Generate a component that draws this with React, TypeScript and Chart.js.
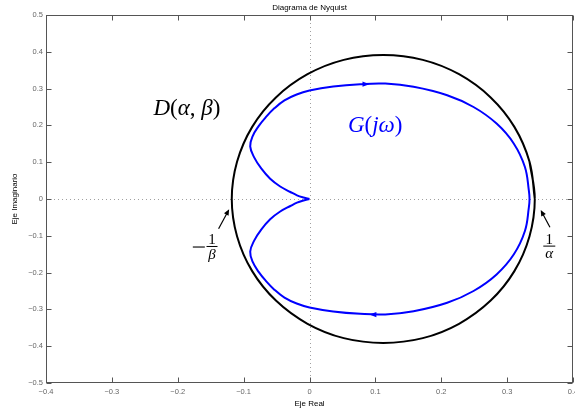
import React, { useEffect, useRef } from "react";
import { Chart, registerables } from "chart.js";

Chart.register(...registerables);

// ---- Data ----
const xTicks = [-0.4, -0.3, -0.2, -0.1, 0, 0.1, 0.2, 0.3, 0.4];
const xTickLabels = ["\u22120.4", "\u22120.3", "\u22120.2", "\u22120.1", "0", "0.1", "0.2", "0.3", "0.4"];
const yTicks = [-0.5, -0.4, -0.3, -0.2, -0.1, 0, 0.1, 0.2, 0.3, 0.4, 0.5];
const yTickLabels = ["\u22120.5", "\u22120.4", "\u22120.3", "\u22120.2", "\u22120.1", "0", "0.1", "0.2", "0.3", "0.4", "0.5"];

// G(jw) upper branch (from origin, up-left, over the top, to the real axis)
const upperX = [0, -0.009, -0.019, -0.029, -0.0445, -0.0597, -0.0733, -0.084, -0.090, -0.0862, -0.0772, -0.0665, -0.053, -0.038, -0.0195, 0, 0.036, 0.077, 0.115, 0.158, 0.209, 0.249, 0.284, 0.310, 0.327, 0.333, 0.334];
const upperY = [0, 0.004, 0.010, 0.019, 0.034, 0.055, 0.083, 0.113, 0.143, 0.171, 0.198, 0.222, 0.247, 0.268, 0.284, 0.2946, 0.3055, 0.312, 0.3136, 0.305, 0.282, 0.250, 0.205, 0.151, 0.087, 0.023, 0];
// G(jw) lower branch (from the real axis, under the bottom, back to origin)
const lowerX = [0.333, 0.327, 0.310, 0.284, 0.249, 0.209, 0.158, 0.115, 0.077, 0.036, 0, -0.0195, -0.038, -0.053, -0.0665, -0.0772, -0.0862, -0.090, -0.084, -0.0733, -0.0597, -0.0445, -0.029, -0.019, -0.009, 0];
const lowerY = [-0.023, -0.087, -0.151, -0.205, -0.250, -0.282, -0.305, -0.3136, -0.312, -0.3055, -0.2946, -0.284, -0.268, -0.247, -0.222, -0.198, -0.171, -0.143, -0.113, -0.083, -0.055, -0.034, -0.019, -0.010, -0.004, 0];

// D(alpha, beta) circle, points read around the curve
const circleX = [0.342, 0.334, 0.311, 0.275, 0.227, 0.172, 0.112, 0.052, -0.003, -0.051, -0.087, -0.110, -0.118, -0.110, -0.087, -0.051, -0.003, 0.052, 0.112, 0.172, 0.227, 0.275, 0.311, 0.334, 0.342, 0.334];
const circleY = [0, 0.101, 0.196, 0.276, 0.339, 0.378, 0.391, 0.378, 0.339, 0.276, 0.196, 0.101, 0, -0.101, -0.196, -0.276, -0.339, -0.378, -0.391, -0.378, -0.339, -0.276, -0.196, -0.101, 0, 0.101];

// direction markers on G(jw)
const curveArrowX = [0.085, 0.097];
const curveArrowY = [0.312, -0.314];
const curveArrowDir = [1, -1];

const toPts = (xs: number[], ys: number[]) => xs.map((x, i) => ({ x, y: ys[i] }));

type Run = { t: string; it: boolean };
const SERIF = '"Liberation Serif", "DejaVu Serif", serif';
const SANS = '"Liberation Sans", Arial, sans-serif';

function drawRuns(ctx: CanvasRenderingContext2D, runs: Run[], cx: number, cy: number, size: number, color: string) {
  const fontOf = (it: boolean) => `${it ? "italic " : ""}${size}px ${SERIF}`;
  let total = 0;
  const widths = runs.map((r) => {
    ctx.font = fontOf(r.it);
    const w = ctx.measureText(r.t).width;
    total += w;
    return w;
  });
  let x = cx - total / 2;
  ctx.fillStyle = color;
  ctx.textBaseline = "middle";
  ctx.textAlign = "left";
  runs.forEach((r, i) => {
    ctx.font = fontOf(r.it);
    ctx.fillText(r.t, x, cy);
    x += widths[i];
  });
}

function drawArrow(ctx: CanvasRenderingContext2D, x1: number, y1: number, x2: number, y2: number) {
  const ang = Math.atan2(y2 - y1, x2 - x1);
  const hl = 6, hw = 2.6;
  ctx.strokeStyle = "#000";
  ctx.fillStyle = "#000";
  ctx.lineWidth = 1.2;
  ctx.beginPath();
  ctx.moveTo(x1, y1);
  ctx.lineTo(x2 - hl * 0.8 * Math.cos(ang), y2 - hl * 0.8 * Math.sin(ang));
  ctx.stroke();
  ctx.beginPath();
  ctx.moveTo(x2, y2);
  ctx.lineTo(x2 - hl * Math.cos(ang) - hw * Math.sin(ang), y2 - hl * Math.sin(ang) + hw * Math.cos(ang));
  ctx.lineTo(x2 - hl * Math.cos(ang) + hw * Math.sin(ang), y2 - hl * Math.sin(ang) - hw * Math.cos(ang));
  ctx.closePath();
  ctx.fill();
}

const decor = {
  id: "nyquistDecor",
  beforeDatasetsDraw(chart: any) {
    const { ctx, chartArea, scales } = chart;
    const { left, right, top, bottom } = chartArea;
    const xs = scales.x, ys = scales.y;
    ctx.save();
    ctx.strokeStyle = "#a0a0a0";
    ctx.lineWidth = 1;
    ctx.setLineDash([1, 3]);
    const px0 = Math.round(xs.getPixelForValue(0)) + 0.5;
    const py0 = Math.round(ys.getPixelForValue(0)) + 0.5;
    ctx.beginPath();
    ctx.moveTo(px0, top);
    ctx.lineTo(px0, bottom);
    ctx.moveTo(left, py0);
    ctx.lineTo(right, py0);
    ctx.stroke();
    ctx.restore();
  },
  afterDatasetsDraw(chart: any) {
    const { ctx, chartArea, scales } = chart;
    const { left, right, top, bottom } = chartArea;
    const xs = scales.x, ys = scales.y;
    const X = (v: number) => xs.getPixelForValue(v);
    const Y = (v: number) => ys.getPixelForValue(v);
    ctx.save();

    // curve direction markers
    ctx.fillStyle = "#0000ff";
    curveArrowX.forEach((vx, i) => {
      const px = X(vx), py = Y(curveArrowY[i]), d = curveArrowDir[i];
      ctx.beginPath();
      ctx.moveTo(px + 4 * d, py);
      ctx.lineTo(px - 3 * d, py - 2.6);
      ctx.lineTo(px - 3 * d, py + 2.6);
      ctx.closePath();
      ctx.fill();
    });

    // box
    const L = Math.round(left) + 0.5, R = Math.round(right) - 0.5;
    const T = Math.round(top) + 0.5, B = Math.round(bottom) - 0.5;
    ctx.strokeStyle = "#555";
    ctx.lineWidth = 1;
    ctx.strokeRect(L, T, R - L, B - T);

    // ticks (inward) + labels
    ctx.beginPath();
    xTicks.forEach((v) => {
      const px = Math.round(X(v)) + 0.5;
      ctx.moveTo(px, B);
      ctx.lineTo(px, B - 5);
      ctx.moveTo(px, T);
      ctx.lineTo(px, T + 5);
    });
    yTicks.forEach((v) => {
      const py = Math.round(Y(v)) + 0.5;
      ctx.moveTo(L, py);
      ctx.lineTo(L + 5, py);
      ctx.moveTo(R, py);
      ctx.lineTo(R - 5, py);
    });
    ctx.stroke();

    ctx.fillStyle = "#666";
    ctx.font = `7.5px ${SANS}`;
    ctx.textBaseline = "middle";
    ctx.textAlign = "center";
    xTicks.forEach((v, i) => ctx.fillText(xTickLabels[i], X(v), bottom + 9));
    ctx.textAlign = "right";
    yTicks.forEach((v, i) => ctx.fillText(yTickLabels[i], left - 3, Y(v)));

    // titles
    ctx.fillStyle = "#000";
    ctx.font = `8px ${SANS}`;
    ctx.textAlign = "center";
    ctx.fillText("Diagrama de Nyquist", (left + right) / 2, 8);
    ctx.fillText("Eje Real", (left + right) / 2, 404);
    ctx.save();
    ctx.translate(15, (top + bottom) / 2);
    ctx.rotate(-Math.PI / 2);
    ctx.fillText("Eje Imaginario", 0, 0);
    ctx.restore();

    // math annotations
    drawRuns(ctx, [
      { t: "D", it: true }, { t: "(", it: false }, { t: "\u03b1", it: true },
      { t: ", ", it: false }, { t: "\u03b2", it: true }, { t: ")", it: false },
    ], X(-0.186), Y(0.244), 23, "#000");
    drawRuns(ctx, [
      { t: "G", it: true }, { t: "(", it: false }, { t: "j\u03c9", it: true }, { t: ")", it: false },
    ], X(0.0997), Y(0.198), 23, "#0000ff");

    // -1/beta
    ctx.fillStyle = "#000";
    ctx.textAlign = "center";
    ctx.textBaseline = "middle";
    const lfx = X(-0.148), lfy = Y(-0.129);
    const mx = X(-0.168);
    ctx.fillRect(mx - 6, lfy, 12, 1.1);
    ctx.font = `15px ${SERIF}`;
    ctx.fillText("1", lfx, lfy - 6.5);
    ctx.font = `italic 15px ${SERIF}`;
    ctx.fillText("\u03b2", lfx, lfy + 9);
    ctx.fillRect(lfx - 5.5, lfy - 0.5, 11, 1);
    // 1/alpha
    const rfx = X(0.364), rfy = Y(-0.128);
    ctx.font = `15px ${SERIF}`;
    ctx.fillText("1", rfx, rfy - 6.5);
    ctx.font = `italic 15px ${SERIF}`;
    ctx.fillText("\u03b1", rfx, rfy + 7.5);
    ctx.fillRect(rfx - 6, rfy - 0.5, 12, 1);

    // pointer arrows
    drawArrow(ctx, X(-0.138), Y(-0.081), X(-0.122), Y(-0.028));
    drawArrow(ctx, X(0.365), Y(-0.077), X(0.351), Y(-0.030));

    ctx.restore();
  },
};

export default function App() {
  const ref = useRef<HTMLCanvasElement | null>(null);
  useEffect(() => {
    if (!ref.current) return;
    const chart = new Chart(ref.current, {
      type: "line",
      data: {
        datasets: [
          {
            label: "D",
            data: toPts(circleX, circleY),
            borderColor: "#000",
            borderWidth: 2,
            pointRadius: 0,
            tension: 0.4,
            fill: false,
          },
          {
            label: "G",
            data: [...toPts(upperX, upperY), ...toPts(lowerX, lowerY)],
            borderColor: "#0000ff",
            borderWidth: 2,
            pointRadius: 0,
            tension: 0.4,
            fill: false,
          },
        ],
      },
      options: {
        animation: false,
        responsive: false,
        maintainAspectRatio: false,
        devicePixelRatio: 1,
        layout: { padding: { left: 46, top: 15, right: 2, bottom: 32 } },
        plugins: { legend: { display: false }, tooltip: { enabled: false }, title: { display: false } },
        scales: {
          x: { type: "linear", min: -0.4, max: 0.4, display: false },
          y: { type: "linear", min: -0.5, max: 0.5, display: false },
        },
      },
      plugins: [decor],
    });
    return () => chart.destroy();
  }, []);
  return (
    <div style={{ position: "absolute", left: 0, top: 0, width: 575, height: 415, background: "#fff" }}>
      <canvas ref={ref} width={575} height={415} style={{ display: "block" }} />
    </div>
  );
}
